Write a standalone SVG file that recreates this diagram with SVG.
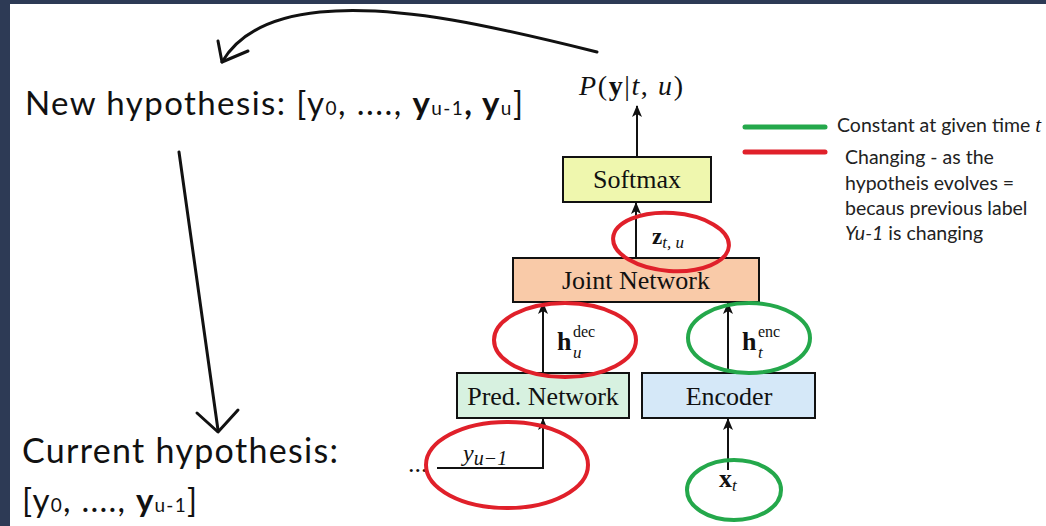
<svg xmlns="http://www.w3.org/2000/svg" width="1046" height="526" viewBox="0 0 1046 526">
<style>
.cap{font-family:Lato,"Open Sans",sans-serif;fill:#111}
.leg{font-family:Lato,"Open Sans",sans-serif;font-size:19.5px;fill:#222}
.box{stroke:#111;stroke-width:2}
.lbl{font-family:"Liberation Serif","DejaVu Serif",serif;font-size:26px;fill:#111;text-anchor:middle}
.m{font-family:"Liberation Serif","DejaVu Serif",serif;fill:#111}
.it{font-style:italic}
.bf{font-weight:bold}
.arr{stroke:#111;stroke-width:2;fill:none;marker-end:url(#ah)}
.hand{stroke:#111;stroke-width:3;fill:none;stroke-linecap:round;stroke-linejoin:round}
.red{stroke:#e0202a;stroke-width:4;fill:none}
.grn{stroke:#24a84b;stroke-width:4;fill:none}
</style>
<defs>
<marker id="ah" viewBox="0 0 12 10" refX="11" refY="5" markerWidth="6" markerHeight="5" orient="auto" markerUnits="strokeWidth">
<path d="M0,0 L12,5 L0,10 L3,5 Z" fill="#111"/>
</marker>
</defs>
<rect x="0" y="0" width="1046" height="526" fill="#fff"/>
<rect x="0" y="0" width="1046" height="4" fill="#2d3a55"/>
<rect x="0" y="0" width="10" height="526" fill="#2d3a55"/>

<g id="captions">
<text class="cap" x="25" y="115" font-size="33" textLength="498" lengthAdjust="spacing">New hypothesis: [y<tspan font-size="19">0</tspan>, ...., <tspan font-weight="bold">y</tspan><tspan font-size="19">u-1</tspan><tspan font-weight="bold">, y</tspan><tspan font-size="19">u</tspan>]</text>
<text class="cap" x="22" y="463" font-size="34" textLength="316" lengthAdjust="spacing">Current hypothesis:</text>
<text class="cap" x="22" y="512" font-size="33" textLength="175" lengthAdjust="spacing">[y<tspan font-size="19">0</tspan>, ...., <tspan font-weight="bold">y</tspan><tspan font-size="19">u-1</tspan>]</text>
</g>

<g id="legend">
<line x1="745" y1="127" x2="825" y2="127" stroke="#24a84b" stroke-width="5" stroke-linecap="round"/>
<line x1="745" y1="152" x2="825" y2="152" stroke="#e0202a" stroke-width="5" stroke-linecap="round"/>
<text class="leg" x="837" y="132">Constant at given time <tspan class="m it" font-size="21">t</tspan></text>
<text class="leg" x="845" y="164">Changing - as the</text>
<text class="leg" x="845" y="190">hypotheis evolves =</text>
<text class="leg" x="845" y="215">becaus previous label</text>
<text class="leg" x="845" y="240"><tspan font-style="italic">Yu-1</tspan> is changing</text>
</g>

<g id="output-label">
<text class="m" x="579" y="95" font-size="28" textLength="104" lengthAdjust="spacing"><tspan class="it">P</tspan>(<tspan class="bf">y</tspan>|<tspan class="it">t</tspan>, <tspan class="it">u</tspan>)</text>
</g>

<g id="softmax">
<rect class="box" x="563" y="157" width="148" height="45" fill="#eff7ae"/>
<text class="lbl" x="637" y="188">Softmax</text>
</g>
<g id="joint-network">
<rect class="box" x="513" y="258" width="246" height="44" fill="#f9caa8"/>
<text class="lbl" x="636" y="289">Joint Network</text>
</g>
<g id="pred-network">
<rect class="box" x="457" y="373" width="172" height="45" fill="#d7f1e0"/>
<text class="lbl" x="543" y="405">Pred. Network</text>
</g>
<g id="encoder">
<rect class="box" x="642" y="373" width="173" height="45" fill="#d5e8f8"/>
<text class="lbl" x="729" y="405">Encoder</text>
</g>

<g id="connectors">
<line class="arr" x1="637" y1="157" x2="637" y2="106"/>
<line class="arr" x1="636" y1="258" x2="636" y2="203"/>
<line class="arr" x1="543" y1="373" x2="543" y2="303"/>
<line class="arr" x1="728" y1="373" x2="728" y2="303"/>
<path class="arr" d="M437,468 H543 V419"/>
<line class="arr" x1="728" y1="470" x2="728" y2="419"/>
<path class="hand" d="M597,52 C500,28 400,4 320,12 C270,17 238,35 222,62"/>
<path class="hand" d="M218,41 L222,62 L248,51"/>
<path class="hand" d="M179,152 L218,430"/>
<path class="hand" d="M197,413 L218,432 L238,410"/>
</g>

<g id="math-labels">
<text class="m" x="652" y="244" font-size="23"><tspan class="bf">z</tspan><tspan class="it" font-size="17" dy="4">t, u</tspan></text>
<text class="m" x="557" y="350" font-size="26"><tspan class="bf">h</tspan></text>
<text class="m" x="573" y="337" font-size="16">dec</text>
<text class="m it" x="573" y="358" font-size="17">u</text>
<text class="m" x="742" y="350" font-size="26"><tspan class="bf">h</tspan></text>
<text class="m" x="758" y="337" font-size="16">enc</text>
<text class="m it" x="758" y="358" font-size="17">t</text>
<text class="m" x="719" y="487" font-size="26"><tspan class="bf">x</tspan><tspan class="it" font-size="17" dy="4">t</tspan></text>
<text class="m" x="463" y="461" font-size="24"><tspan class="it">y</tspan><tspan class="it" font-size="20" dy="4">u−1</tspan></text>
<text class="m" x="408" y="472" font-size="26">...</text>
</g>

<g id="highlights">
<ellipse class="red" cx="671" cy="242" rx="58" ry="29" transform="rotate(4 671 242)"/>
<ellipse class="red" cx="565" cy="340" rx="71" ry="37"/>
<ellipse class="grn" cx="749" cy="338" rx="61" ry="35"/>
<ellipse class="red" cx="507" cy="465" rx="81" ry="43"/>
<ellipse class="grn" cx="734" cy="490" rx="47" ry="30"/>
</g>
</svg>
